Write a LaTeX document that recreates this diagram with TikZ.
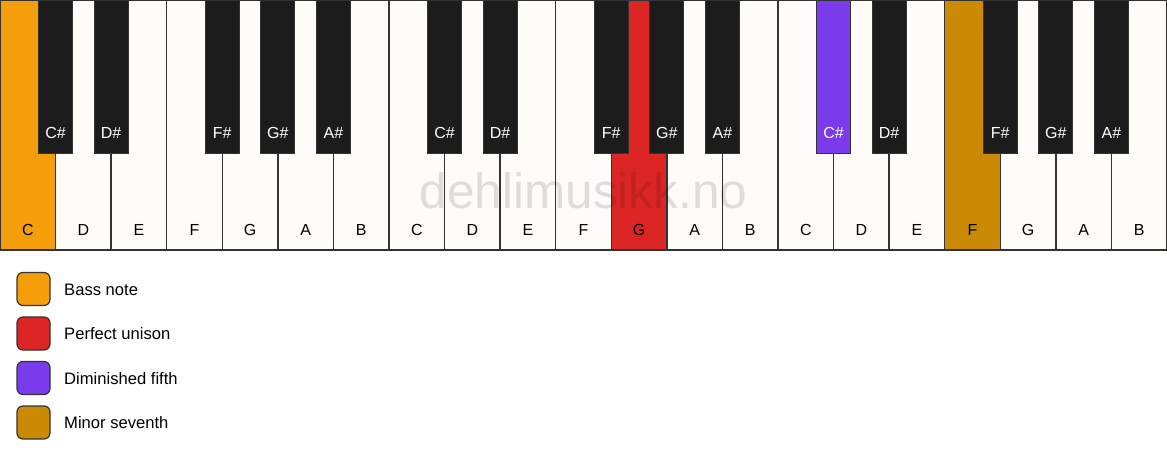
\documentclass[tikz,border=0pt]{standalone}
\usepackage{fontspec}
\setmainfont{Liberation Sans}
\definecolor{keywhite}{HTML}{FDFCF9}
\definecolor{keyblack}{HTML}{1C1C1C}
\definecolor{keyline}{HTML}{333333}
\definecolor{bassc}{HTML}{F59E0B}
\definecolor{unisonc}{HTML}{DC2626}
\definecolor{dimc}{HTML}{7C3AED}
\definecolor{sevc}{HTML}{CA8A04}
\begin{document}
\begin{tikzpicture}[x=1pt,y=-1pt,
  whitekey/.style={draw=keyline, line width=1.4pt, fill=keywhite, minimum width=55.571pt, minimum height=250pt, inner sep=0pt, outer sep=0pt, anchor=north west},
  blackkey/.style={draw=keyline, line width=1pt, fill=keyblack, minimum width=34pt, minimum height=153pt, inner sep=0pt, outer sep=0pt, anchor=north},
  wlabel/.style={font=\fontsize{16}{18}\selectfont, text=black, anchor=center},
  blabel/.style={font=\fontsize{16}{18}\selectfont, text=white, anchor=center},
  legbox/.style={draw=keyline, line width=1.2pt, rounded corners=6pt, minimum size=33pt, inner sep=0pt, anchor=center},
  legtext/.style={font=\fontsize{16.6}{18}\selectfont, anchor=west, inner sep=0pt},
  watermark/.style={font=\fontsize{49.5}{50}\selectfont, text=black, text opacity=0.12, anchor=base, inner sep=0pt}]
\useasboundingbox (0,0) rectangle (1167,461);
\def\kw{55.571}
% white keys
\foreach \i/\n in {0/C,1/D,2/E,3/F,4/G,5/A,6/B,7/C,8/D,9/E,10/F,11/G,12/A,13/B,14/C,15/D,16/E,17/F,18/G,19/A,20/B}{
  \ifnum\i=0 \def\kf{bassc}\else\ifnum\i=11 \def\kf{unisonc}\else\ifnum\i=17 \def\kf{sevc}\else\def\kf{keywhite}\fi\fi\fi
  \node[whitekey, fill=\kf] (wk\i) at ({\i*\kw},0) {};
  \node[wlabel] (wl\i) at ({(\i+0.5)*\kw},230) {\n};
}
% black keys
\foreach \o in {0,1,2}{
  \foreach \b/\n in {1/C\#,2/D\#,4/F\#,5/G\#,6/A\#}{
    \pgfmathtruncatemacro{\bi}{7*\o+\b}
    \ifnum\bi=15 \def\kf{dimc}\else\def\kf{keyblack}\fi
    \node[blackkey, fill=\kf] (bk\bi) at ({\bi*\kw},0) {};
    \node[blabel] (bl\bi) at ({\bi*\kw},133) {\n};
  }
}
% watermark
\node[watermark] (wm) at (583.5,208) {dehlimusikk.no};
% legend
\foreach \j/\c/\t in {0/bassc/Bass note,1/unisonc/Perfect unison,2/dimc/Diminished fifth,3/sevc/Minor seventh}{
  \node[legbox, fill=\c] (lb\j) at (33.5,{289+44.5*\j}) {};
  \node[legtext] (lt\j) at (64,{289.5+44.5*\j}) {\t};
}
\end{tikzpicture}
\end{document}
